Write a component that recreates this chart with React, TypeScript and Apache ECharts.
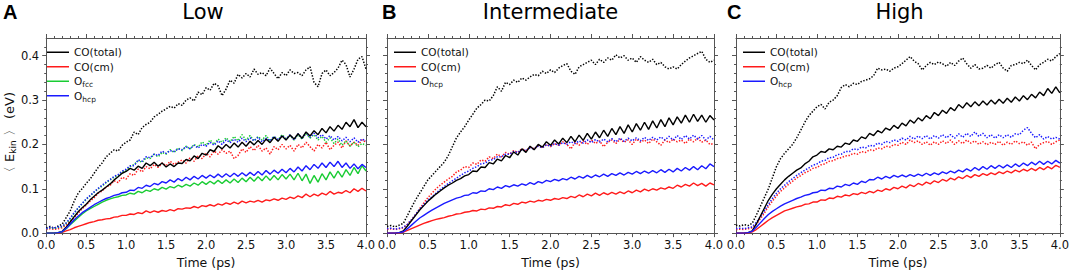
import React, { useEffect, useRef } from "react";
import * as echarts from "echarts";

const TIMES = [0,0.05,0.1,0.15,0.2,0.25,0.3,0.35,0.4,0.45,0.5,0.55,0.6,0.65,0.7,0.75,0.8,0.85,0.9,0.95,1,1.05,1.1,1.15,1.2,1.25,1.3,1.35,1.4,1.45,1.5,1.55,1.6,1.65,1.7,1.75,1.8,1.85,1.9,1.95,2,2.05,2.1,2.15,2.2,2.25,2.3,2.35,2.4,2.45,2.5,2.55,2.6,2.65,2.7,2.75,2.8,2.85,2.9,2.95,3,3.05,3.1,3.15,3.2,3.25,3.3,3.35,3.4,3.45,3.5,3.55,3.6,3.65,3.7,3.75,3.8,3.85,3.9,3.95,4];

const X_TICKS = [0, 0.5, 1, 1.5, 2, 2.5, 3, 3.5, 4];
const Y_TICKS = [0, 0.1, 0.2, 0.3, 0.4];
const PANEL_TITLES = ["Low", "Intermediate", "High"];
const PANEL_LETTERS = ["A", "B", "C"];

// ---- Panel A (Low)
const A_TOT_S = [0,0,0,0.001,0.004,0.013,0.025,0.037,0.048,0.057,
0.065,0.075,0.083,0.091,0.097,0.104,0.111,0.12,0.127,0.135,
0.139,0.146,0.142,0.151,0.146,0.158,0.152,0.16,0.151,0.158,
0.149,0.156,0.15,0.158,0.157,0.166,0.163,0.174,0.168,0.18,
0.176,0.188,0.184,0.197,0.19,0.2,0.192,0.203,0.194,0.205,
0.196,0.207,0.199,0.209,0.2,0.212,0.204,0.216,0.207,0.219,
0.21,0.221,0.212,0.224,0.214,0.228,0.219,0.231,0.222,0.236,
0.226,0.24,0.23,0.243,0.234,0.25,0.24,0.256,0.238,0.25,
0.24];
const A_TOT_D = [0.012,0.015,0.011,0.016,0.02,0.035,0.05,0.072,0.09,0.1,
0.112,0.122,0.135,0.148,0.158,0.172,0.18,0.188,0.185,0.198,
0.205,0.21,0.228,0.222,0.238,0.245,0.25,0.262,0.268,0.275,
0.28,0.286,0.282,0.292,0.288,0.3,0.305,0.298,0.318,0.312,
0.328,0.322,0.338,0.332,0.31,0.325,0.345,0.338,0.358,0.35,
0.36,0.352,0.37,0.358,0.362,0.355,0.372,0.36,0.348,0.362,
0.355,0.368,0.36,0.362,0.355,0.368,0.375,0.34,0.33,0.36,
0.368,0.355,0.362,0.372,0.39,0.38,0.352,0.37,0.392,0.398,
0.37];
const A_CM_S = [0,0,0,0,0.002,0.005,0.008,0.012,0.015,0.018,
0.021,0.024,0.026,0.029,0.03,0.032,0.033,0.036,0.037,0.04,
0.04,0.043,0.042,0.046,0.044,0.05,0.046,0.05,0.047,0.051,
0.049,0.053,0.05,0.055,0.054,0.057,0.056,0.06,0.057,0.062,
0.06,0.064,0.061,0.066,0.063,0.068,0.065,0.07,0.066,0.072,
0.068,0.072,0.07,0.074,0.07,0.075,0.073,0.077,0.074,0.079,
0.076,0.081,0.078,0.084,0.08,0.088,0.082,0.088,0.084,0.09,
0.086,0.094,0.088,0.092,0.09,0.096,0.091,0.1,0.094,0.101,
0.095];
const A_CM_D = [0.008,0.01,0.008,0.01,0.012,0.018,0.026,0.035,0.045,0.055,
0.063,0.072,0.08,0.09,0.095,0.104,0.108,0.118,0.114,0.126,
0.122,0.134,0.13,0.144,0.138,0.15,0.145,0.155,0.148,0.158,
0.152,0.162,0.155,0.16,0.165,0.158,0.17,0.162,0.175,0.168,
0.18,0.172,0.185,0.178,0.188,0.18,0.185,0.168,0.175,0.19,
0.182,0.195,0.186,0.198,0.185,0.192,0.178,0.195,0.188,0.2,
0.19,0.198,0.185,0.2,0.192,0.205,0.195,0.185,0.2,0.192,
0.205,0.188,0.198,0.205,0.192,0.208,0.196,0.205,0.198,0.21,
0.205];
const A_FCC_S = [0,0,0,0.001,0.003,0.01,0.019,0.027,0.035,0.043,
0.05,0.055,0.06,0.065,0.07,0.074,0.077,0.08,0.082,0.085,
0.086,0.09,0.088,0.094,0.091,0.097,0.094,0.1,0.097,0.103,
0.099,0.105,0.102,0.108,0.104,0.11,0.106,0.113,0.108,0.116,
0.11,0.117,0.111,0.119,0.112,0.12,0.113,0.122,0.114,0.124,
0.116,0.126,0.117,0.127,0.118,0.129,0.119,0.13,0.12,0.132,
0.122,0.133,0.12,0.135,0.118,0.133,0.112,0.13,0.115,0.134,
0.12,0.138,0.124,0.14,0.126,0.143,0.13,0.148,0.134,0.152,
0.14];
const A_FCC_D = [0.01,0.012,0.01,0.013,0.014,0.022,0.032,0.045,0.056,0.066,
0.076,0.084,0.092,0.1,0.106,0.114,0.12,0.126,0.13,0.138,
0.142,0.15,0.155,0.163,0.16,0.17,0.168,0.178,0.172,0.182,
0.178,0.188,0.182,0.192,0.186,0.196,0.19,0.2,0.194,0.206,
0.198,0.21,0.2,0.212,0.205,0.215,0.206,0.218,0.208,0.222,
0.21,0.22,0.208,0.218,0.21,0.22,0.208,0.218,0.21,0.222,
0.212,0.22,0.21,0.222,0.212,0.225,0.214,0.222,0.21,0.218,
0.205,0.215,0.202,0.212,0.198,0.208,0.196,0.205,0.195,0.202,
0.198];
const A_HCP_S = [0,0,0,0.001,0.003,0.011,0.02,0.03,0.038,0.046,
0.052,0.058,0.064,0.069,0.074,0.078,0.081,0.085,0.087,0.091,
0.092,0.097,0.096,0.103,0.101,0.108,0.105,0.112,0.109,0.116,
0.113,0.12,0.115,0.123,0.118,0.126,0.12,0.128,0.122,0.13,
0.124,0.131,0.125,0.133,0.126,0.134,0.127,0.135,0.128,0.136,
0.129,0.137,0.13,0.139,0.131,0.141,0.133,0.142,0.135,0.144,
0.136,0.146,0.138,0.149,0.14,0.152,0.143,0.155,0.146,0.158,
0.148,0.16,0.15,0.162,0.148,0.158,0.146,0.156,0.145,0.155,
0.148];
const A_HCP_D = [0.01,0.013,0.011,0.014,0.015,0.023,0.034,0.046,0.057,0.067,
0.077,0.085,0.093,0.101,0.108,0.115,0.121,0.128,0.132,0.14,
0.144,0.152,0.152,0.165,0.162,0.172,0.17,0.178,0.175,0.185,
0.18,0.186,0.184,0.19,0.188,0.195,0.19,0.198,0.192,0.2,
0.196,0.205,0.198,0.208,0.2,0.21,0.204,0.212,0.205,0.214,
0.206,0.215,0.208,0.216,0.206,0.214,0.208,0.218,0.21,0.22,
0.212,0.222,0.21,0.224,0.214,0.226,0.216,0.225,0.215,0.222,
0.212,0.22,0.21,0.218,0.208,0.216,0.206,0.215,0.205,0.212,
0.208];

// ---- Panel B (Intermediate)
const B_TOT_S = [0,0,0,0.001,0.005,0.016,0.028,0.04,0.052,0.062,
0.072,0.08,0.088,0.095,0.102,0.108,0.113,0.119,0.123,0.129,
0.132,0.14,0.139,0.149,0.148,0.159,0.156,0.167,0.163,0.175,
0.17,0.183,0.176,0.19,0.182,0.196,0.188,0.2,0.194,0.206,
0.198,0.21,0.201,0.214,0.204,0.218,0.206,0.221,0.209,0.225,
0.212,0.228,0.215,0.232,0.218,0.236,0.222,0.24,0.225,0.244,
0.228,0.247,0.232,0.25,0.234,0.253,0.237,0.256,0.24,0.26,
0.244,0.262,0.248,0.266,0.25,0.268,0.252,0.266,0.25,0.265,
0.255];
const B_TOT_D = [0.015,0.017,0.014,0.018,0.022,0.04,0.058,0.075,0.09,0.105,
0.12,0.13,0.14,0.15,0.16,0.175,0.195,0.215,0.228,0.24,
0.255,0.268,0.282,0.29,0.3,0.298,0.31,0.33,0.32,0.34,
0.335,0.345,0.34,0.35,0.345,0.352,0.358,0.355,0.365,0.36,
0.368,0.362,0.372,0.378,0.382,0.365,0.358,0.375,0.38,0.385,
0.39,0.38,0.392,0.385,0.395,0.39,0.402,0.395,0.4,0.39,
0.395,0.385,0.398,0.39,0.385,0.392,0.38,0.385,0.375,0.37,
0.375,0.37,0.38,0.388,0.395,0.4,0.405,0.41,0.392,0.385,
0.39];
const B_CM_S = [0,0,0,0,0.002,0.006,0.01,0.014,0.018,0.022,
0.025,0.028,0.031,0.033,0.035,0.038,0.04,0.043,0.044,0.047,
0.048,0.051,0.05,0.054,0.053,0.057,0.056,0.06,0.059,0.064,
0.062,0.067,0.065,0.07,0.068,0.072,0.07,0.074,0.072,0.076,
0.074,0.078,0.076,0.08,0.078,0.083,0.08,0.086,0.082,0.088,
0.084,0.09,0.085,0.091,0.087,0.092,0.088,0.093,0.089,0.095,
0.091,0.097,0.093,0.099,0.095,0.1,0.097,0.102,0.099,0.104,
0.101,0.108,0.104,0.11,0.106,0.113,0.107,0.112,0.106,0.113,
0.109];
const B_CM_D = [0.008,0.01,0.008,0.01,0.012,0.02,0.03,0.042,0.055,0.068,
0.08,0.09,0.1,0.108,0.115,0.122,0.128,0.138,0.142,0.15,
0.148,0.158,0.155,0.165,0.162,0.172,0.168,0.178,0.172,0.182,
0.178,0.186,0.182,0.19,0.186,0.194,0.19,0.197,0.192,0.2,
0.195,0.202,0.198,0.206,0.2,0.19,0.205,0.198,0.208,0.2,
0.21,0.202,0.208,0.195,0.205,0.21,0.202,0.212,0.205,0.21,
0.2,0.212,0.205,0.21,0.202,0.212,0.206,0.198,0.21,0.204,
0.212,0.206,0.21,0.202,0.212,0.206,0.214,0.205,0.21,0.2,
0.202];
const B_HCP_S = [0,0,0,0.001,0.003,0.01,0.018,0.026,0.034,0.04,
0.046,0.052,0.057,0.062,0.067,0.071,0.075,0.079,0.081,0.085,
0.086,0.091,0.09,0.095,0.094,0.1,0.098,0.104,0.101,0.107,
0.104,0.109,0.106,0.111,0.108,0.114,0.11,0.116,0.113,0.119,
0.116,0.121,0.118,0.123,0.12,0.126,0.122,0.128,0.124,0.13,
0.125,0.131,0.127,0.133,0.128,0.134,0.13,0.136,0.131,0.137,
0.133,0.139,0.134,0.14,0.135,0.141,0.136,0.143,0.137,0.144,
0.138,0.146,0.14,0.148,0.142,0.15,0.143,0.152,0.145,0.156,
0.15];
const B_HCP_D = [0.01,0.011,0.009,0.011,0.013,0.02,0.03,0.042,0.054,0.064,
0.074,0.082,0.09,0.098,0.105,0.112,0.118,0.124,0.13,0.136,
0.14,0.146,0.15,0.156,0.158,0.164,0.166,0.172,0.172,0.178,
0.178,0.184,0.182,0.188,0.186,0.192,0.19,0.196,0.193,0.199,
0.196,0.202,0.198,0.204,0.2,0.206,0.202,0.208,0.203,0.21,
0.204,0.211,0.205,0.212,0.206,0.213,0.206,0.214,0.207,0.214,
0.208,0.215,0.208,0.216,0.209,0.216,0.21,0.217,0.21,0.218,
0.21,0.22,0.211,0.22,0.212,0.221,0.212,0.22,0.21,0.218,
0.21];

// ---- Panel C (High)
const C_TOT_S = [0,0,0,0.001,0.005,0.02,0.038,0.056,0.074,0.088,
0.1,0.11,0.12,0.128,0.135,0.142,0.147,0.156,0.162,0.172,
0.176,0.184,0.182,0.19,0.188,0.196,0.194,0.203,0.2,0.21,
0.207,0.217,0.213,0.225,0.22,0.231,0.226,0.237,0.232,0.243,
0.236,0.248,0.242,0.255,0.248,0.26,0.253,0.265,0.258,0.272,
0.265,0.277,0.27,0.283,0.276,0.29,0.282,0.294,0.285,0.296,
0.287,0.298,0.289,0.3,0.291,0.302,0.293,0.304,0.295,0.307,
0.298,0.31,0.301,0.313,0.305,0.318,0.31,0.326,0.315,0.33,
0.316];
const C_TOT_D = [0.018,0.016,0.019,0.017,0.022,0.04,0.06,0.08,0.1,0.125,
0.15,0.168,0.18,0.19,0.2,0.215,0.232,0.25,0.265,0.275,
0.285,0.29,0.28,0.295,0.3,0.31,0.328,0.335,0.33,0.338,
0.335,0.342,0.345,0.348,0.355,0.372,0.368,0.37,0.365,0.372,
0.375,0.382,0.39,0.398,0.388,0.382,0.368,0.378,0.385,0.38,
0.386,0.382,0.376,0.385,0.378,0.388,0.395,0.382,0.372,0.38,
0.37,0.372,0.378,0.372,0.38,0.385,0.372,0.365,0.378,0.38,
0.385,0.382,0.39,0.378,0.368,0.38,0.385,0.392,0.388,0.398,
0.405];
const C_CM_S = [0,0,0,0,0.003,0.008,0.015,0.022,0.029,0.035,
0.04,0.045,0.05,0.053,0.056,0.059,0.061,0.065,0.066,0.07,
0.07,0.075,0.074,0.079,0.078,0.083,0.081,0.086,0.084,0.089,
0.087,0.092,0.089,0.094,0.091,0.097,0.094,0.1,0.097,0.103,
0.1,0.106,0.102,0.109,0.105,0.112,0.108,0.115,0.111,0.118,
0.114,0.121,0.117,0.124,0.12,0.127,0.123,0.13,0.125,0.132,
0.128,0.134,0.13,0.136,0.132,0.138,0.134,0.14,0.136,0.142,
0.138,0.144,0.14,0.146,0.141,0.148,0.143,0.15,0.145,0.153,
0.148];
const C_CM_D = [0.008,0.009,0.008,0.01,0.012,0.02,0.032,0.045,0.06,0.072,
0.084,0.094,0.102,0.11,0.117,0.124,0.13,0.136,0.14,0.146,
0.148,0.154,0.156,0.162,0.163,0.168,0.17,0.174,0.175,0.18,
0.178,0.184,0.182,0.188,0.186,0.192,0.19,0.196,0.194,0.2,
0.198,0.205,0.2,0.21,0.204,0.208,0.2,0.206,0.198,0.206,
0.2,0.208,0.202,0.21,0.2,0.208,0.202,0.21,0.203,0.208,
0.2,0.206,0.199,0.205,0.2,0.207,0.198,0.205,0.2,0.208,
0.202,0.206,0.198,0.205,0.19,0.2,0.204,0.207,0.2,0.206,
0.21];
const C_HCP_S = [0,0,0,0.001,0.004,0.013,0.023,0.033,0.042,0.049,
0.055,0.061,0.066,0.07,0.074,0.078,0.081,0.085,0.087,0.091,
0.092,0.097,0.096,0.101,0.1,0.106,0.104,0.11,0.107,0.113,
0.11,0.117,0.114,0.121,0.12,0.126,0.122,0.128,0.124,0.13,
0.126,0.131,0.127,0.132,0.128,0.133,0.129,0.135,0.13,0.136,
0.132,0.138,0.134,0.14,0.136,0.142,0.138,0.145,0.14,0.148,
0.142,0.15,0.144,0.152,0.146,0.153,0.147,0.154,0.148,0.156,
0.15,0.158,0.152,0.16,0.154,0.162,0.155,0.162,0.156,0.164,
0.158];
const C_HCP_D = [0.01,0.011,0.01,0.012,0.014,0.024,0.036,0.05,0.065,0.078,
0.09,0.1,0.108,0.116,0.123,0.13,0.136,0.142,0.147,0.153,
0.156,0.162,0.164,0.17,0.171,0.177,0.178,0.184,0.184,0.19,
0.188,0.194,0.192,0.198,0.196,0.203,0.2,0.207,0.204,0.21,
0.207,0.214,0.21,0.218,0.212,0.219,0.213,0.22,0.212,0.22,
0.214,0.222,0.215,0.222,0.214,0.224,0.216,0.225,0.218,0.228,
0.218,0.225,0.215,0.222,0.214,0.222,0.215,0.222,0.216,0.224,
0.222,0.232,0.238,0.225,0.215,0.222,0.212,0.218,0.212,0.216,
0.212];

const NAMES = ["CO(total)", "CO(cm)", "O_fcc", "O_hcp"];

const PANEL_SERIES = [
  [
    { key: 0, solid: A_TOT_S, dotted: A_TOT_D },
    { key: 1, solid: A_CM_S, dotted: A_CM_D },
    { key: 2, solid: A_FCC_S, dotted: A_FCC_D },
    { key: 3, solid: A_HCP_S, dotted: A_HCP_D },
  ],
  [
    { key: 0, solid: B_TOT_S, dotted: B_TOT_D },
    { key: 1, solid: B_CM_S, dotted: B_CM_D },
    { key: 3, solid: B_HCP_S, dotted: B_HCP_D },
  ],
  [
    { key: 0, solid: C_TOT_S, dotted: C_TOT_D },
    { key: 1, solid: C_CM_S, dotted: C_CM_D },
    { key: 3, solid: C_HCP_S, dotted: C_HCP_D },
  ],
];

// ---- styles / layout
const COLORS = ["#000000", "#ff1a1a", "#19cc33", "#1a1aff"];
const FONT = "DejaVu Sans";
const AXIS_COLOR = "#555555";
const TEXT_COLOR = "#111111";
const GRID_LEFT = [40, 387, 736];
const GRID_WIDTH = [326, 327, 327];
const GRID_TOP = 38;
const GRID_HEIGHT = 203;

function buildOption() {
  const grid = GRID_LEFT.map((l, g) => ({
    left: l,
    top: GRID_TOP,
    width: GRID_WIDTH[g],
    height: GRID_HEIGHT,
    containLabel: false,
  }));

  const lineStyle = { color: AXIS_COLOR, width: 1 };
  const xAxis: any[] = [];
  const yAxis: any[] = [];
  GRID_LEFT.forEach((_, g) => {
    ["bottom", "top"].forEach((pos) => {
      xAxis.push({
        type: "value",
        gridIndex: g,
        position: pos,
        min: 0,
        max: 4,
        interval: 0.5,
        axisLine: { show: true, onZero: false, lineStyle },
        axisTick: { show: true, length: 4, lineStyle, customValues: X_TICKS },
        minorTick: { show: true, splitNumber: 5, length: 2, lineStyle },
        axisLabel: {
          show: pos === "bottom",
          customValues: X_TICKS,
          fontFamily: FONT,
          fontSize: 11.5,
          color: TEXT_COLOR,
          margin: 6,
          formatter: (v: number) => v.toFixed(1),
        },
        splitLine: { show: false },
        minorSplitLine: { show: false },
        name: pos === "bottom" ? "Time (ps)" : "",
        nameLocation: "middle",
        nameGap: 17,
        nameTextStyle: { fontFamily: FONT, fontSize: 12.5, color: TEXT_COLOR },
      });
    });
    ["left", "right"].forEach((pos) => {
      yAxis.push({
        type: "value",
        gridIndex: g,
        position: pos,
        min: 0,
        max: 0.44,
        interval: 0.1,
        axisLine: { show: true, onZero: false, lineStyle },
        axisTick: { show: true, length: 4, lineStyle, customValues: Y_TICKS },
        minorTick: { show: true, splitNumber: 5, length: 2, lineStyle },
        axisLabel: {
          show: pos === "left" && g === 0,
          customValues: Y_TICKS,
          fontFamily: FONT,
          fontSize: 11.5,
          color: TEXT_COLOR,
          margin: 7,
          formatter: (v: number) => v.toFixed(1),
        },
        splitLine: { show: false },
        minorSplitLine: { show: false },
        name: pos === "left" && g === 0 ? "〈 E{s|kin} 〉 (eV)" : "",
        nameLocation: "middle",
        nameRotate: 90,
        nameGap: 29,
        nameTextStyle: {
          fontFamily: FONT,
          fontSize: 13,
          color: TEXT_COLOR,
          lineHeight: 16,
          rich: {
            s: { fontFamily: FONT, fontSize: 9, color: TEXT_COLOR, lineHeight: 10, verticalAlign: "bottom" },
          },
        },
      });
    });
  });

  const series: any[] = [];
  PANEL_SERIES.forEach((lines, g) => {
    const mk = (vals: number[], key: number, dotted: boolean) => ({
      type: "line",
      name: dotted ? NAMES[key] + " (dotted)" : NAMES[key],
      xAxisIndex: 2 * g,
      yAxisIndex: 2 * g,
      data: TIMES.map((t, i) => [t, vals[i]]),
      symbol: "none",
      showSymbol: false,
      silent: true,
      clip: true,
      z: dotted ? 2 : 3,
      itemStyle: { color: COLORS[key] },
      lineStyle: {
        color: COLORS[key],
        width: dotted ? 1.5 : 1.4,
        type: dotted ? [1.4, 1.6] : "solid",
      },
    });
    lines.forEach((l) => series.push(mk(l.dotted, l.key, true)));
    lines.forEach((l) => series.push(mk(l.solid, l.key, false)));
  });

  const legend = PANEL_SERIES.map((lines, g) => ({
    orient: "vertical",
    left: GRID_LEFT[g] + 7,
    top: 45,
    padding: 0,
    itemWidth: 22,
    itemHeight: 1.5,
    itemGap: 0,
    icon: "rect",
    selectedMode: false,
    itemStyle: { borderWidth: 0 },
    data: lines.map((l) => NAMES[l.key]),
    formatter: (name: string) =>
      name === "O_fcc" ? "O{s|fcc}" : name === "O_hcp" ? "O{s|hcp}" : name,
    textStyle: {
      fontFamily: FONT,
      fontSize: 10.5,
      color: TEXT_COLOR,
      lineHeight: 14.5,
      rich: {
        s: { fontFamily: FONT, fontSize: 7.5, color: TEXT_COLOR, lineHeight: 9, verticalAlign: "bottom" },
      },
    },
  }));

  const graphic: any[] = [];
  GRID_LEFT.forEach((l, g) => {
    graphic.push({
      type: "text",
      x: l + GRID_WIDTH[g] / 2,
      y: 12,
      silent: true,
      style: {
        text: PANEL_TITLES[g],
        fontFamily: FONT,
        fontSize: 21,
        fill: "#000",
        align: "center",
        verticalAlign: "middle",
      },
    });
  });
  const letterX = [3, 382, 727];
  PANEL_LETTERS.forEach((t, g) => {
    graphic.push({
      type: "text",
      x: letterX[g],
      y: 12,
      silent: true,
      style: {
        text: t,
        fontFamily: "Liberation Sans",
        fontWeight: "bold",
        fontSize: 20,
        fill: "#000",
        align: "left",
        verticalAlign: "middle",
      },
    });
  });

  return {
    animation: false,
    backgroundColor: "#ffffff",
    grid,
    xAxis,
    yAxis,
    series,
    legend,
    graphic,
  };
}

export default function App() {
  const ref = useRef<HTMLDivElement>(null);
  useEffect(() => {
    if (!ref.current) return;
    const chart = echarts.init(ref.current, null, { renderer: "svg" });
    chart.setOption(buildOption() as any);
    return () => chart.dispose();
  }, []);
  return (
    <div
      ref={ref}
      style={{ position: "fixed", left: 0, top: 0, width: 1072, height: 274 }}
    />
  );
}
